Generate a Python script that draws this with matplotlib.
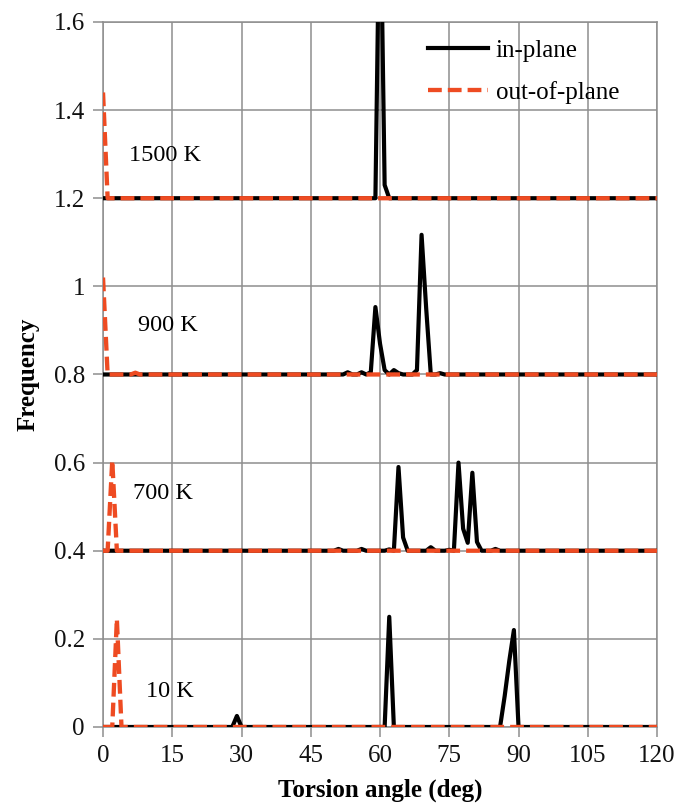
import numpy as np
import matplotlib
matplotlib.use("Agg")
import matplotlib.pyplot as plt

plt.rcParams['font.family'] = ['Liberation Serif', 'DejaVu Serif']

# torsion-angle bins (deg)
angles = np.arange(0, 121)

# vertical offset used to stack each temperature
temperatures = ["10 K", "700 K", "900 K", "1500 K"]
offsets = [0.0, 0.4, 0.8, 1.2]

# non-zero frequencies, {angle: value}, relative to each baseline
in_plane_10K = {29: 0.025, 62: 0.25, 87: 0.07, 88: 0.15, 89: 0.22}
in_plane_700K = {51: 0.004, 56: 0.004, 62: 0.003, 64: 0.19, 65: 0.03,
                 71: 0.008, 75: 0.002, 77: 0.2, 78: 0.05, 79: 0.018,
                 80: 0.177, 81: 0.02, 85: 0.004}
in_plane_900K = {53: 0.005, 56: 0.005, 58: 0.005, 59: 0.153, 60: 0.07,
                 61: 0.01, 63: 0.01, 64: 0.003, 68: 0.01, 69: 0.317,
                 70: 0.15, 73: 0.003}
in_plane_1500K = {59: 0.0, 60: 0.75, 61: 0.03}

out_plane_10K = {3: 0.245}
out_plane_700K = {2: 0.205}
out_plane_900K = {0: 0.22, 7: 0.004}
out_plane_1500K = {0: 0.24}

in_plane = [in_plane_10K, in_plane_700K, in_plane_900K, in_plane_1500K]
out_plane = [out_plane_10K, out_plane_700K, out_plane_900K, out_plane_1500K]

# label anchor points (angle, frequency)
label_pos = [(14.5, 0.08), (13.0, 0.531), (14.0, 0.912), (13.4, 1.298)]

black = "#000000"
orange = "#EE4B22"
grid_gray = "#8E8E8E"


def series(values, base):
    y = np.full(angles.shape, base, dtype=float)
    for a, v in values.items():
        y[angles == a] = base + v
    return y


fig = plt.figure(figsize=(6.8, 8.11), dpi=100)
ax = fig.add_axes([0.1515, 0.1036, 0.8147, 0.8693])

for i, base in enumerate(offsets):
    ax.plot(angles, series(in_plane[i], base), color=black, lw=3.0,
            solid_joinstyle='round', zorder=3,
            label="in-plane" if i == 0 else None)
    ax.plot(angles, series(out_plane[i], base), color=orange, lw=3.1,
            dashes=(3.2, 1.4), zorder=4,
            label="out-of-plane" if i == 0 else None)
    ax.text(label_pos[i][0], label_pos[i][1], temperatures[i],
            ha='center', va='center', fontsize=17.5)

ax.set_xlim(0, 120)
ax.set_ylim(0, 1.6)
ax.set_xticks(np.arange(0, 121, 15))
ax.set_yticks(np.arange(0, 1.61, 0.2))
ax.set_yticklabels(["0", "0.2", "0.4", "0.6", "0.8", "1", "1.2", "1.4", "1.6"])

ax.grid(True, color=grid_gray, lw=1.1)
ax.set_axisbelow(True)
for s in ax.spines.values():
    s.set_color(grid_gray)
    s.set_linewidth(1.1)
ax.tick_params(axis='both', colors=grid_gray, labelcolor='#111111',
               labelsize=18, length=7, width=1.1)
ax.tick_params(axis='y', pad=6)
ax.tick_params(axis='x', pad=6)

ax.set_xlabel("Torsion angle (deg)", fontsize=18, fontweight='bold',
              labelpad=8)
ax.set_ylabel("Frequency", fontsize=18, fontweight='bold', labelpad=10)

leg = ax.legend(loc='upper left', bbox_to_anchor=(0.587, 0.975),
                frameon=False, fontsize=18, handlelength=2.4,
                handletextpad=0.3, labelspacing=0.75, borderpad=0,
                borderaxespad=0)

fig.savefig("out.png", dpi=100)
